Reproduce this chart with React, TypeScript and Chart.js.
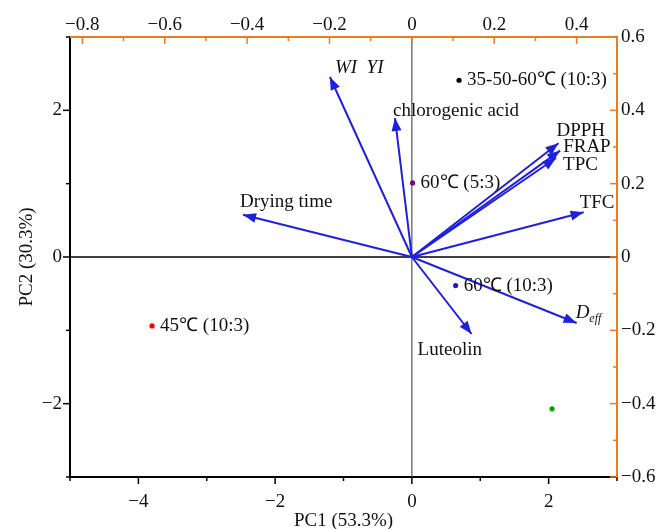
import React, { useEffect, useRef } from 'react';
import { Chart, registerables } from 'chart.js';

Chart.register(...registerables);

// ---- Axis ticks ----
const pc1TickValues = [-5, -4, -3, -2, -1, 0, 1, 2, 3];
const pc1TickLabels = ['', '−4', '', '−2', '', '0', '', '2', ''];
const pc2TickValues = [-3, -2, -1, 0, 1, 2, 3];
const pc2TickLabels = ['', '−2', '', '0', '', '2', ''];
const loadXTickValues = [-0.8, -0.7, -0.6, -0.5, -0.4, -0.3, -0.2, -0.1, 0, 0.1, 0.2, 0.3, 0.4];
const loadXTickLabels = ['−0.8', '', '−0.6', '', '−0.4', '', '−0.2', '', '0', '', '0.2', '', '0.4'];
const loadYTickValues = [-0.6, -0.5, -0.4, -0.3, -0.2, -0.1, 0, 0.1, 0.2, 0.3, 0.4, 0.5, 0.6];
const loadYTickLabels = ['−0.6', '', '−0.4', '', '−0.2', '', '0', '', '0.2', '', '0.4', '', '0.6'];

// ---- Sample scores ----
const sampleNames = ['35-50-60℃ (10:3)', '60℃ (5:3)', '60℃ (10:3)', '45℃ (10:3)', ''];
const samplePC1 = [0.69, 0.01, 0.64, -3.8, 2.05];
const samplePC2 = [2.41, 1.01, -0.39, -0.94, -2.07];
const sampleColors = ['#000000', '#800080', '#1a1ad8', '#ff0000', '#00a000'];

// ---- Variable loadings ----
const variableNames = ['WI  YI', 'chlorogenic acid', 'DPPH', 'FRAP', 'TPC', 'Drying time', 'TFC', 'Luteolin', 'Deff'];
const loadingPC1 = [-0.199, -0.041, 0.356, 0.36, 0.35, -0.41, 0.417, 0.145, 0.4];
const loadingPC2 = [0.491, 0.379, 0.31, 0.29, 0.27, 0.115, 0.122, -0.21, -0.18];

// label offsets (pixels) relative to arrow tips — styling only
const variableLabelOffsets: [number, number][] = [
  [5, -9], [-2, -7], [-2, -12], [3, -4], [7, 7], [-3, -13], [-4, -9], [-54, 16], [-1, -10],
];

const FONT = "'Liberation Serif', 'Times New Roman', serif";
const ARROW = '#1f1fe0';
const ORANGE = '#f07a1e';

const biplotPlugin = {
  id: 'biplot',
  beforeDatasetsDraw(chart: any) {
    const { ctx, chartArea: a, scales } = chart;
    const x0 = scales.x.getPixelForValue(0);
    const y0 = scales.y.getPixelForValue(0);
    ctx.save();
    ctx.strokeStyle = '#000';
    ctx.lineWidth = 1.5;
    ctx.beginPath();
    ctx.moveTo(a.left, y0);
    ctx.lineTo(a.right, y0);
    ctx.stroke();
    ctx.strokeStyle = '#333';
    ctx.lineWidth = 1;
    ctx.beginPath();
    ctx.moveTo(x0, a.top);
    ctx.lineTo(x0, a.bottom);
    ctx.stroke();
    ctx.restore();
  },
  afterDatasetsDraw(chart: any) {
    const { ctx, scales } = chart;
    const sx = scales.x2, sy = scales.y2;
    ctx.save();
    const ox = sx.getPixelForValue(0), oy = sy.getPixelForValue(0);
    variableNames.forEach((name, i) => {
      const tx = sx.getPixelForValue(loadingPC1[i]);
      const ty = sy.getPixelForValue(loadingPC2[i]);
      const ang = Math.atan2(ty - oy, tx - ox);
      const L = 13, W = 5;
      const bx = tx - L * Math.cos(ang), by = ty - L * Math.sin(ang);
      ctx.fillStyle = ARROW;
      ctx.beginPath();
      ctx.moveTo(tx, ty);
      ctx.lineTo(bx - W * Math.sin(ang), by + W * Math.cos(ang));
      ctx.lineTo(bx + W * Math.sin(ang), by - W * Math.cos(ang));
      ctx.closePath();
      ctx.fill();

      const [dx, dy] = variableLabelOffsets[i];
      const lx = tx + dx, ly = ty + dy;
      ctx.fillStyle = '#111';
      ctx.textBaseline = 'middle';
      ctx.textAlign = 'left';
      if (name === 'Deff') {
        ctx.font = `italic 19px ${FONT}`;
        ctx.fillText('D', lx, ly);
        const w = ctx.measureText('D').width;
        ctx.font = `italic 12px ${FONT}`;
        ctx.fillText('eff', lx + w, ly + 6);
      } else if (name === 'WI  YI') {
        ctx.font = `italic 19px ${FONT}`;
        ctx.fillText(name, lx, ly);
      } else {
        ctx.font = `19px ${FONT}`;
        ctx.fillText(name, lx, ly);
      }
    });
    // sample labels
    const px = scales.x, py = scales.y;
    ctx.font = `19px ${FONT}`;
    ctx.fillStyle = '#111';
    sampleNames.forEach((name, i) => {
      if (!name) return;
      const x = px.getPixelForValue(samplePC1[i]);
      const y = py.getPixelForValue(samplePC2[i]);
      ctx.fillText(name, x + 8, y);
    });
    ctx.restore();
  },
  afterDraw(chart: any) {
    const { ctx, chartArea: a, scales } = chart;
    ctx.save();
    const defs = [
      { id: 'x', color: '#000', dir: 1, horiz: true, edge: a.bottom },
      { id: 'x2', color: ORANGE, dir: 1, horiz: true, edge: a.top },
      { id: 'y', color: '#000', dir: -1, horiz: false, edge: a.left },
      { id: 'y2', color: ORANGE, dir: -1, horiz: false, edge: a.right },
    ];
    defs.forEach((d) => {
      const s = scales[d.id];
      ctx.strokeStyle = d.color;
      ctx.lineWidth = 1.5;
      s.ticks.forEach((t: any) => {
        const major = t.label !== '' && t.label != null;
        const len = major ? 7 : 4;
        const p = s.getPixelForValue(t.value);
        ctx.beginPath();
        if (d.horiz) {
          ctx.moveTo(p, d.edge);
          ctx.lineTo(p, d.edge + d.dir * len);
        } else {
          ctx.moveTo(d.edge, p);
          ctx.lineTo(d.edge + d.dir * len, p);
        }
        ctx.stroke();
      });
    });
    ctx.restore();
  },
};

function setTicks(values: number[]) {
  return (s: any) => {
    s.ticks = values.map((v) => ({ value: v }));
  };
}

const noGrid = { display: false, drawTicks: false, tickLength: 0 };

export default function App() {
  const ref = useRef<HTMLCanvasElement>(null);
  useEffect(() => {
    document.body.style.margin = '0';
    const canvas = ref.current!;
    const sampleData = samplePC1.map((x, i) => ({ x, y: samplePC2[i] }));
    const arrowSets = variableNames.map((name, i) => ({
      type: 'line' as const,
      label: name,
      data: [
        { x: 0, y: 0 },
        { x: loadingPC1[i], y: loadingPC2[i] },
      ],
      xAxisID: 'x2',
      yAxisID: 'y2',
      showLine: true,
      borderColor: ARROW,
      borderWidth: 2,
      pointRadius: 0,
      fill: false,
      order: 1,
    }));
    const tickFont = { family: FONT, size: 19 };
    const chart = new Chart(canvas, {
      type: 'scatter',
      data: {
        datasets: [
          {
            label: 'samples',
            data: sampleData,
            xAxisID: 'x',
            yAxisID: 'y',
            pointRadius: 2.6,
            pointBackgroundColor: sampleColors,
            pointBorderWidth: 0,
            order: 0,
          } as any,
          ...arrowSets,
        ],
      },
      options: {
        responsive: false,
        animation: false,
        layout: { padding: 0 },
        plugins: { legend: { display: false }, tooltip: { enabled: false } },
        scales: {
          x: {
            type: 'linear',
            position: 'bottom',
            min: -5,
            max: 3,
            afterBuildTicks: setTicks(pc1TickValues),
            afterFit: (s: any) => { s.height = 52; },
            grid: noGrid,
            border: { display: true, color: '#000', width: 2 },
            ticks: { font: tickFont, color: '#111', padding: 14, maxRotation: 0, autoSkip: false,
              callback: (_v: any, i: number) => pc1TickLabels[i] },
            title: { display: true, text: 'PC1 (53.3%)', font: { family: FONT, size: 19, lineHeight: 0.8 }, color: '#111', padding: 0 },
          },
          y: {
            type: 'linear',
            position: 'left',
            min: -3,
            max: 3,
            afterBuildTicks: setTicks(pc2TickValues),
            afterFit: (s: any) => { s.width = 70; },
            grid: noGrid,
            border: { display: true, color: '#000', width: 2 },
            ticks: { font: tickFont, color: '#111', padding: 8, autoSkip: false,
              callback: (_v: any, i: number) => pc2TickLabels[i] },
            title: { display: true, text: 'PC2 (30.3%)', font: tickFont, color: '#111', padding: { top: 16, bottom: 0 } },
          },
          x2: {
            type: 'linear',
            position: 'top',
            min: -0.83,
            max: 0.498,
            afterBuildTicks: setTicks(loadXTickValues),
            afterFit: (s: any) => { s.height = 37; },
            grid: noGrid,
            border: { display: true, color: ORANGE, width: 2 },
            ticks: { font: tickFont, color: '#111', padding: 1, maxRotation: 0, autoSkip: false,
              callback: (_v: any, i: number) => loadXTickLabels[i] },
          },
          y2: {
            type: 'linear',
            position: 'right',
            min: -0.6,
            max: 0.6,
            afterBuildTicks: setTicks(loadYTickValues),
            afterFit: (s: any) => { s.width = 43; },
            grid: noGrid,
            border: { display: true, color: ORANGE, width: 2 },
            ticks: { font: tickFont, color: '#111', padding: 4, autoSkip: false,
              callback: (_v: any, i: number) => loadYTickLabels[i] },
          },
        },
      } as any,
      plugins: [biplotPlugin],
    });
    return () => chart.destroy();
  }, []);
  return <canvas ref={ref} width={660} height={529} style={{ display: 'block' }} />;
}
